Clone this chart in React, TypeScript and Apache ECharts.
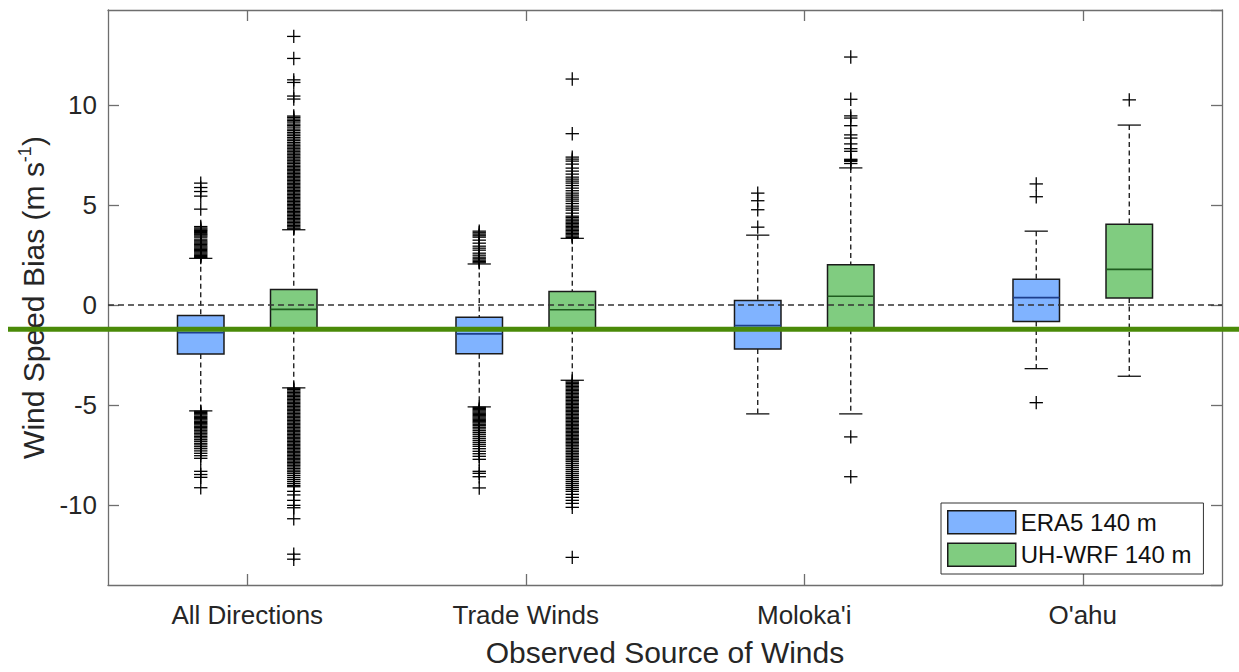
import React, { useEffect, useRef } from 'react';
import * as echarts from 'echarts';

// categories on the x axis
const categories = ['All Directions', 'Trade Winds', "Moloka'i", "O'ahu"];
const seriesNames = ['ERA5 140 m', 'UH-WRF 140 m'];

// box stats per category: [lower whisker, q1, median, q3, upper whisker]
const era5Boxes = [
  [-5.28, -2.44, -1.38, -0.51, 2.34],
  [-5.08, -2.42, -1.43, -0.6, 2.06],
  [-5.43, -2.19, -1.02, 0.23, 3.5],
  [-3.17, -0.81, 0.38, 1.3, 3.7],
];
const wrfBoxes = [
  [-4.13, -1.2, -0.21, 0.78, 3.77],
  [-3.75, -1.2, -0.23, 0.68, 3.34],
  [-5.43, -1.2, 0.45, 2.02, 6.86],
  [-3.55, 0.36, 1.79, 4.04, 9.0],
];

// outliers (plus markers), one list per category
const era5Outliers = [
  [6.1, 5.88, 5.68, 5.45, 4.8, 3.93, 3.86, 3.8, 3.74, 3.69, 3.63, 3.57, 3.52, 3.46, 3.4,
    3.3, 3.22, 3.16, 3.1, 3.04, 2.97, 2.91, 2.85, 2.79, 2.73, 2.67, 2.61, 2.55, 2.49, 2.43, 2.38,
    -5.3, -5.36, -5.42, -5.48, -5.55, -5.61, -5.67, -5.73, -5.8, -5.86, -5.92, -5.98, -6.05,
    -6.11, -6.18, -6.25, -6.33, -6.4, -6.48, -6.56, -6.63, -6.72, -6.8, -6.9, -6.98, -7.07,
    -7.17, -7.28, -7.4, -7.52, -7.65, -8.3, -8.46, -8.6, -9.12],
  [3.7, 3.62, 3.55, 3.47, 3.4, 3.25, 3.1, 2.95, 2.85, 2.75, 2.6, 2.5, 2.4, 2.32, 2.25, 2.18, 2.12,
    -5.1, -5.16, -5.22, -5.28, -5.34, -5.4, -5.46, -5.52, -5.58, -5.64, -5.7, -5.76, -5.82,
    -5.88, -5.95, -6.02, -6.1, -6.18, -6.27, -6.36, -6.45, -6.55, -6.65, -6.75, -6.85, -6.95,
    -7.05, -7.17, -7.3, -7.42, -7.55, -7.7, -8.3, -8.4, -8.57, -9.13],
  [5.6, 5.22, 4.77, 3.9],
  [6.06, 5.42, -4.87],
];
const wrfOutliers = [
  [13.43, 12.33, 11.26, 11.13, 10.45, 10.3, 9.45, 9.38, 9.3, 9.22, 9.15, 9.05, 8.98, 8.9, 8.8,
    8.72, 8.63, 8.55, 8.47, 8.38, 8.3, 8.22, 8.13, 8.05, 7.97, 7.9, 7.82, 7.75, 7.67, 7.6, 7.52,
    7.45, 7.37, 7.3, 7.22, 7.15, 7.08, 7.0, 6.93, 6.86, 6.79, 6.72, 6.65, 6.58, 6.51, 6.44, 6.37,
    6.3, 6.23, 6.16, 6.09, 6.02, 5.95, 5.88, 5.81, 5.74, 5.67, 5.6, 5.53, 5.46, 5.39, 5.32, 5.25,
    5.18, 5.11, 5.04, 4.97, 4.9, 4.83, 4.76, 4.69, 4.62, 4.55, 4.48, 4.41, 4.34, 4.27, 4.2, 4.13,
    4.06, 3.99, 3.92, 3.85, 3.8,
    -4.15, -4.22, -4.29, -4.36, -4.43, -4.5, -4.57, -4.64, -4.71, -4.78, -4.85, -4.92, -4.99,
    -5.06, -5.13, -5.2, -5.27, -5.34, -5.41, -5.48, -5.55, -5.62, -5.69, -5.76, -5.83, -5.9,
    -5.97, -6.04, -6.11, -6.18, -6.25, -6.32, -6.39, -6.46, -6.53, -6.6, -6.67, -6.74, -6.81,
    -6.88, -6.95, -7.02, -7.09, -7.16, -7.23, -7.3, -7.37, -7.44, -7.51, -7.58, -7.65, -7.72,
    -7.79, -7.86, -7.93, -8.0, -8.08, -8.16, -8.24, -8.32, -8.4, -8.5, -8.6, -8.7, -8.8, -8.9,
    -9.0, -9.07, -9.3, -9.48, -9.75, -10.0, -10.12, -10.67, -12.44, -12.69],
  [11.3, 8.57, 7.4, 7.3, 7.2, 7.05, 6.85, 6.7, 6.55, 6.4, 6.3, 6.2, 6.1, 5.98, 5.85, 5.72, 5.6,
    5.5, 5.4, 5.3, 5.2, 5.08, 4.95, 4.85, 4.75, 4.6, 4.45, 4.38, 4.3, 4.22, 4.15, 4.08, 4.01,
    3.94, 3.87, 3.8, 3.73, 3.66, 3.59, 3.52, 3.45, 3.38,
    -3.78, -3.85, -3.92, -3.99, -4.06, -4.13, -4.2, -4.27, -4.34, -4.41, -4.48, -4.55, -4.62,
    -4.69, -4.76, -4.83, -4.9, -4.97, -5.04, -5.11, -5.18, -5.25, -5.32, -5.39, -5.46, -5.53,
    -5.6, -5.67, -5.74, -5.81, -5.88, -5.95, -6.02, -6.09, -6.16, -6.23, -6.3, -6.37, -6.44,
    -6.51, -6.58, -6.65, -6.72, -6.79, -6.86, -6.93, -7.0, -7.08, -7.16, -7.24, -7.32, -7.4,
    -7.48, -7.56, -7.64, -7.72, -7.8, -7.9, -8.0, -8.1, -8.2, -8.3, -8.4, -8.5, -8.6, -8.7,
    -8.8, -8.9, -9.0, -9.1, -9.2, -9.3, -9.45, -9.6, -9.75, -9.9, -10.1, -12.6],
  [12.4, 10.29, 9.46, 9.35, 8.97, 8.51, 8.35, 8.06, 7.82, 7.69, 7.29, 7.24, 7.19, 7.08, -6.58, -8.57],
  [10.26],
];

// reference level marked by the thick green line
const greenLevel = -1.2;

const FONT = "'Liberation Sans', Arial, sans-serif";
const TEXT = '#262626';
const AXIS = '#6e6e6e';
const OFFSET = 0.167; // box centre offset as fraction of band
const BOX_W = 0.167; // box width as fraction of band

const boxSeries = (name: string, boxes: number[][], fill: string, med: string, side: number) => ({
  type: 'custom',
  name,
  data: boxes.map((b, i) => [i, ...b]),
  encode: { x: 0, y: [1, 2, 3, 4, 5] },
  itemStyle: { color: fill },
  z: 3,
  renderItem: (params: any, api: any) => {
    const i = api.value(0);
    const band = api.size([1, 0])[0];
    const cx = api.coord([i, 0])[0] + side * band * OFFSET;
    const w = band * BOX_W;
    const y = (k: number) => api.coord([i, api.value(k)])[1];
    const lo = y(1), q1 = y(2), md = y(3), q3 = y(4), hi = y(5);
    const dash = { stroke: '#111', lineWidth: 1.3, lineDash: [5, 3.5] };
    const cap = { stroke: '#111', lineWidth: 1.3 };
    return {
      type: 'group',
      children: [
        { type: 'line', shape: { x1: cx, y1: hi, x2: cx, y2: q3 }, style: dash },
        { type: 'line', shape: { x1: cx, y1: q1, x2: cx, y2: lo }, style: dash },
        { type: 'line', shape: { x1: cx - w / 4, y1: hi, x2: cx + w / 4, y2: hi }, style: cap },
        { type: 'line', shape: { x1: cx - w / 4, y1: lo, x2: cx + w / 4, y2: lo }, style: cap },
        {
          type: 'rect',
          shape: { x: cx - w / 2, y: q3, width: w, height: q1 - q3 },
          style: { fill, stroke: '#1a1a1a', lineWidth: 1.5 },
        },
        { type: 'line', shape: { x1: cx - w / 2, y1: md, x2: cx + w / 2, y2: md }, style: { stroke: med, lineWidth: 1.6 } },
      ],
    };
  },
});

const outlierSeries = (name: string, lists: number[][], side: number) => ({
  type: 'custom',
  name,
  data: lists.flatMap((vals, i) => vals.map((v) => [i, v])),
  encode: { x: 0, y: 1 },
  z: 4,
  renderItem: (params: any, api: any) => {
    const band = api.size([1, 0])[0];
    const p = api.coord([api.value(0), api.value(1)]);
    const cx = p[0] + side * band * OFFSET;
    const s = 6.7;
    const st = { stroke: '#000', lineWidth: 1.3 };
    return {
      type: 'group',
      children: [
        { type: 'line', shape: { x1: cx - s, y1: p[1], x2: cx + s, y2: p[1] }, style: st },
        { type: 'line', shape: { x1: cx, y1: p[1] - s, x2: cx, y2: p[1] + s }, style: st },
      ],
    };
  },
});

const App: React.FC = () => {
  const chartRef = useRef<HTMLDivElement>(null);

  useEffect(() => {
    if (!chartRef.current) return;
    const chart = echarts.init(chartRef.current, undefined, { renderer: 'svg' });

    const yBase = {
      type: 'value',
      min: -13.98,
      max: 14.75,
      splitLine: { show: false },
      axisLine: { show: true, onZero: false, lineStyle: { color: AXIS, width: 1.3 } },
      axisTick: { show: true, inside: true, length: 11, lineStyle: { color: AXIS, width: 1.3 } },
    };
    const xBase = {
      type: 'category',
      data: categories,
      axisLine: { show: true, onZero: false, lineStyle: { color: AXIS, width: 1.3 } },
      axisTick: { show: true, inside: true, length: 11, alignWithLabel: true, lineStyle: { color: AXIS, width: 1.3 } },
      splitLine: { show: false },
    };

    const option: any = {
      animation: false,
      backgroundColor: '#fff',
      textStyle: { fontFamily: FONT },
      grid: { left: 108, right: 17, top: 10, bottom: 81.5, containLabel: false },
      legend: {
        orient: 'vertical',
        left: 941,
        top: 503,
        data: [
          { name: seriesNames[0], itemStyle: { color: '#80b3ff', borderColor: '#1a1a1a', borderWidth: 1.5 } },
          { name: seriesNames[1], itemStyle: { color: '#80cc80', borderColor: '#1a1a1a', borderWidth: 1.5 } },
        ],
        icon: 'rect',
        itemWidth: 68,
        itemHeight: 23,
        itemGap: 8,
        padding: [7, 12, 7, 6],
        backgroundColor: '#fff',
        borderColor: '#333',
        borderWidth: 1,
        textStyle: { fontSize: 24, color: '#111', fontFamily: FONT },
        selectedMode: false,
      },
      xAxis: [
        {
          ...xBase,
          position: 'bottom',
          name: 'Observed Source of Winds',
          nameLocation: 'middle',
          nameGap: 52,
          nameTextStyle: { fontSize: 30, color: TEXT, fontFamily: FONT },
          axisLabel: { fontSize: 26, color: TEXT, margin: 17, fontFamily: FONT },
        },
        { ...xBase, position: 'top', axisLabel: { show: false } },
      ],
      yAxis: [
        {
          ...yBase,
          position: 'left',
          name: '{t|Wind Speed Bias (m s}{s|-1}{t|)}',
          nameLocation: 'middle',
          nameGap: 56,
          nameTextStyle: {
            color: TEXT,
            fontFamily: FONT,
            rich: {
              t: { fontSize: 30, color: TEXT, fontFamily: FONT, lineHeight: 36 },
              s: { fontSize: 18, color: TEXT, fontFamily: FONT, verticalAlign: 'top', lineHeight: 20 },
            },
          },
          axisLabel: { fontSize: 26, color: TEXT, margin: 11, fontFamily: FONT, showMinLabel: false, showMaxLabel: false },
        },
        { ...yBase, position: 'right', axisLabel: { show: false } },
      ],
      series: [
        {
          ...boxSeries(seriesNames[0], era5Boxes, '#80b3ff', '#1d3f8c', -1),
          markLine: {
            silent: true,
            symbol: 'none',
            label: { show: false },
            lineStyle: { type: [6, 4], color: '#333', width: 1.5 },
            data: [{ yAxis: 0 }],
            z: 5,
          },
        },
        boxSeries(seriesNames[1], wrfBoxes, '#80cc80', '#1f5c1f', 1),
        outlierSeries('ERA5 outliers', era5Outliers, -1),
        outlierSeries('UH-WRF outliers', wrfOutliers, 1),
      ],
    };

    chart.setOption(option);

    // thick green reference line spanning the figure width
    const gy = chart.convertToPixel({ yAxisIndex: 0 }, greenLevel) as number;
    chart.setOption({
      graphic: [
        {
          type: 'line',
          z: 100,
          shape: { x1: 8, y1: gy, x2: 1239, y2: gy },
          style: { stroke: '#4a8a08', lineWidth: 5 },
        },
      ],
    });

    return () => {
      chart.dispose();
    };
  }, []);

  return (
    <div
      ref={chartRef}
      style={{ position: 'fixed', left: 0, top: 0, width: '1239px', height: '672px' }}
    />
  );
};

export default App;
